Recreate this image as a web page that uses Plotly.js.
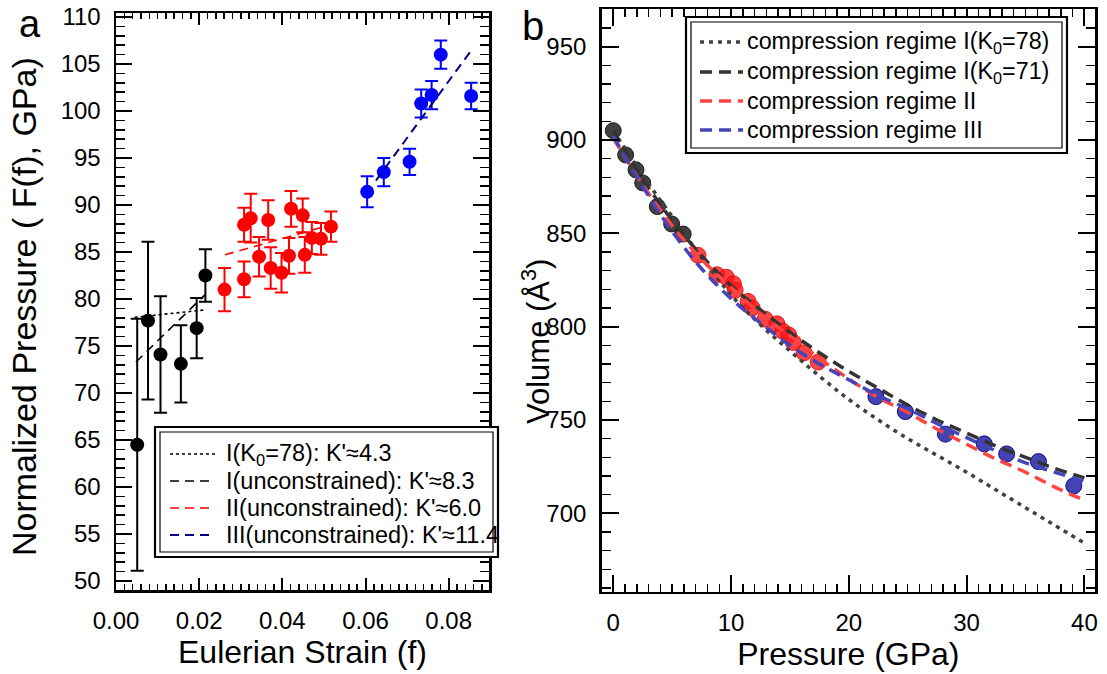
<!DOCTYPE html>
<html>
<head>
<meta charset="utf-8">
<script src="https://cdn.plot.ly/plotly-3.0.1.min.js"></script>
<style>html,body{margin:0;padding:0;background:#fff;}#chart{width:1107px;height:674px;}</style>
</head>
<body>
<div id="chart"></div>
<script>
// ---------- Panel a: normalized pressure vs Eulerian strain ----------
var strainI = [0.0051, 0.0077, 0.0107, 0.0156, 0.0194, 0.0215];
var presI   = [64.5, 77.7, 74.1, 73.1, 76.9, 82.5];
var errI    = [13.4, 8.4, 6.2, 4.1, 3.2, 2.8];

var strainII = [0.0261, 0.0308, 0.0308, 0.0324, 0.0344, 0.0366, 0.0372, 0.0398, 0.0416, 0.0421, 0.0449, 0.0454, 0.0471, 0.0493, 0.0517];
var presII   = [81.0, 82.1, 87.9, 88.6, 84.5, 88.4, 83.3, 82.8, 84.6, 89.6, 88.9, 84.7, 86.5, 86.4, 87.7];
var errII    = [2.3, 1.9, 1.8, 2.6, 2.1, 2.1, 2.2, 2.1, 1.9, 1.9, 1.8, 1.9, 1.7, 1.7, 1.6];

var strainIII = [0.0604, 0.0644, 0.0706, 0.0734, 0.0759, 0.0781, 0.0854];
var presIII   = [91.4, 93.5, 94.6, 100.8, 101.7, 106.0, 101.6];
var errIII    = [1.65, 1.5, 1.4, 1.5, 1.5, 1.5, 1.4];

// fitted lines (end points)
var fitK78_f = [0.0045, 0.0215];   var fitK78_F = [78.05, 78.85];
var fitI_f   = [0.0048, 0.0215];   var fitI_F   = [73.3, 80.5];
var fitII_f  = [0.0262, 0.0517];   var fitII_F  = [84.7, 87.9];
var fitIII_f = [0.0625, 0.0855];   var fitIII_F = [92.6, 106.5];

var legendA = ["I(K<sub>0</sub>=78): K'≈4.3", "I(unconstrained): K'≈8.3", "II(unconstrained): K'≈6.0", "III(unconstrained): K'≈11.4"];

// ---------- Panel b: volume vs pressure ----------
var pI = [0, 1.05, 1.93, 2.5, 3.74, 4.96, 5.94];
var vI = [905, 892, 884, 877, 864.3, 855, 849.6];
var pII = [7.2, 8.8, 9.6, 10.2, 10.35, 11.45, 11.8, 12.9, 13.9, 14.4, 14.9, 15.3, 16.2, 17.4];
var vII = [838.2, 827.8, 826.5, 823, 819.5, 813.5, 810, 804, 801.5, 797.5, 795.5, 791.5, 786, 781];
var pIII = [22.3, 24.8, 28.2, 31.5, 33.4, 36.1, 39.1];
var vIII = [762.5, 754.5, 742.4, 737.2, 731.8, 727.7, 714.7];

var curveP   = [0, 2.5, 5, 7.5, 10, 12.5, 15, 17.5, 20, 22.5, 25, 27.5, 30, 32.5, 35, 37.5, 40];
var curveK78 = [905, 881, 859, 837, 817, 801, 787, 773.5, 761, 750, 740, 731, 722, 712.5, 703, 693.5, 684];
var curveK71 = [905, 879, 857, 838, 822, 809, 797, 786, 776, 767, 758, 750, 743, 736, 730, 724, 719];
var curveII  = [901, 876, 854, 836, 821, 807, 795, 783, 772, 762, 754, 745, 737, 729, 722, 714, 707];
var curveIII = [902, 875, 851, 831, 815, 802, 790, 780, 771.5, 763, 756, 748, 740.5, 733.5, 727, 722, 717];

var legendB = ["compression regime I(K<sub>0</sub>=78)", "compression regime I(K<sub>0</sub>=71)", "compression regime II", "compression regime III"];

var W = 1107, H = 674;
function px(x){return x/W;}
function py(y){return 1 - y/H;}

var styleA = [
  {color:'#000000', dash:'3px,3px', width:1.6},
  {color:'#000000', dash:'9px,6px', width:1.6},
  {color:'#ff0000', dash:'9px,6px', width:1.6},
  {color:'#000080', dash:'9px,6px', width:2}
];
var styleB = [
  {color:'#404040', dash:'4px,5px', width:3.5},
  {color:'#333333', dash:'12px,7px', width:3.5},
  {color:'#ff4444', dash:'12px,7px', width:3.5},
  {color:'#4444bb', dash:'12px,7px', width:3.5}
];

function pts(x, y, e, color){
  return {x:x, y:y, type:'scatter', mode:'markers', xaxis:'x', yaxis:'y', showlegend:false,
    marker:{color:color, size:14},
    error_y:{type:'data', array:e, visible:true, color:color, thickness:2, width:6.5}};
}
function lineA(x, y, i){
  return {x:x, y:y, type:'scatter', mode:'lines', xaxis:'x', yaxis:'y', name:legendA[i], showlegend:false,
    line:styleA[i]};
}
function ptsB(x, y, color, lc){
  return {x:x, y:y, type:'scatter', mode:'markers', xaxis:'x2', yaxis:'y2', showlegend:false,
    marker:{color:color, size:16, line:{color:lc, width:1}}};
}
function curveB(y, i){
  var s = styleB[i];
  return {x:curveP, y:y, type:'scatter', mode:'lines', xaxis:'x2', yaxis:'y2', name:legendB[i], showlegend:false,
    line:{color:s.color, dash:s.dash, width:s.width, shape:'spline'}};
}

var traces = [
  pts(strainI, presI, errI, '#000000'),
  pts(strainII, presII, errII, '#ff0000'),
  pts(strainIII, presIII, errIII, '#0000ff'),
  lineA(fitK78_f, fitK78_F, 0),
  lineA(fitI_f, fitI_F, 1),
  lineA(fitII_f, fitII_F, 2),
  lineA(fitIII_f, fitIII_F, 3),
  ptsB(pI, vI, 'rgba(30,30,30,0.85)', 'rgba(20,20,20,0.9)'),
  ptsB(pII, vII, 'rgba(255,20,20,0.8)', 'rgba(230,0,0,0.8)'),
  ptsB(pIII, vIII, 'rgba(20,20,160,0.8)', 'rgba(0,0,120,0.9)'),
  curveB(curveK78, 0),
  curveB(curveK71, 1),
  curveB(curveII, 2),
  curveB(curveIII, 3)
];

var font = 'Arial, "Liberation Sans", sans-serif';
function axis(o){
  var base = {showline:true, linecolor:'#000', linewidth:2.5, mirror:'allticks', ticks:'inside',
    tickcolor:'#000', tickwidth:2, showgrid:false, zeroline:false, tickfont:{size:24, color:'#000'},
    ticklabelstandoff:8};
  for (var k in o) base[k] = o[k];
  return base;
}

// legend boxes (double frame) and entries
var shapes = [];
var annotations = [];
function legendBox(x0, x1, y0, y1){
  shapes.push({type:'rect', xref:'paper', yref:'paper', x0:px(x0), x1:px(x1), y0:py(y1), y1:py(y0),
    line:{color:'#000', width:2.2}, fillcolor:'#fff', layer:'above'});
  shapes.push({type:'rect', xref:'paper', yref:'paper', x0:px(x0+5), x1:px(x1-5), y0:py(y1-5), y1:py(y0+5),
    line:{color:'#000', width:1.2}, layer:'above'});
}
function legendRows(names, styles, rowsY, sx0, sx1, tx, fsize){
  for (var i = 0; i < names.length; i++){
    shapes.push({type:'line', xref:'paper', yref:'paper', x0:px(sx0), x1:px(sx1), y0:py(rowsY[i]), y1:py(rowsY[i]),
      line:{color:styles[i].color, dash:styles[i].dash, width:styles[i].width}, layer:'above'});
    annotations.push({text:names[i], xref:'paper', yref:'paper', x:px(tx), y:py(rowsY[i]), xanchor:'left', yanchor:'middle',
      showarrow:false, font:{size:fsize, color:'#000', family:font}});
  }
}
legendBox(155, 498, 427, 557);
legendRows(legendA, styleA, [454, 481, 508, 535], 170, 215, 224, 23.5);
legendBox(686, 1067, 17, 153);
legendRows(legendB, styleB, [42, 72, 101, 130], 700, 743, 745, 23.3);

annotations.push({text:'a', xref:'paper', yref:'paper', x:px(30), y:py(1), xanchor:'center', yanchor:'top', showarrow:false, font:{size:38, color:'#000', family:font}});
annotations.push({text:'b', xref:'paper', yref:'paper', x:px(533), y:py(2), xanchor:'center', yanchor:'top', showarrow:false, font:{size:40, color:'#000', family:font}});
annotations.push({text:'Normalized Pressure ( F(f), GPa)', xref:'paper', yref:'paper', x:px(24), y:py(307), xanchor:'center', yanchor:'middle', textangle:-90, showarrow:false, font:{size:34, color:'#000', family:font}});
annotations.push({text:'Volume (Å<sup>3</sup>)', xref:'paper', yref:'paper', x:px(536), y:py(342), xanchor:'center', yanchor:'middle', textangle:-90, showarrow:false, font:{size:31, color:'#000', family:font}});

var layout = {
  width:W, height:H, margin:{l:0, r:0, t:0, b:0},
  paper_bgcolor:'#fff', plot_bgcolor:'#fff',
  font:{family:font, color:'#000'},
  showlegend:false,
  xaxis: axis({domain:[px(116), px(489)], range:[0, 0.0897], anchor:'y', dtick:0.02, tick0:0, tickformat:'.2f', ticklen:12,
    minor:{dtick:0.002, ticklen:6, tickwidth:1.5, ticks:'inside', showgrid:false},
    title:{text:'Eulerian Strain (f)', font:{size:32}, standoff:0}}),
  yaxis: axis({domain:[py(590), py(13)], range:[49.04, 110.43], anchor:'x', dtick:5, tick0:50, ticklen:16,
    minor:{dtick:1, ticklen:9, tickwidth:1.5, ticks:'inside', showgrid:false}}),
  xaxis2: axis({domain:[px(601.7), px(1095)], range:[-0.98, 40.9], anchor:'y2', dtick:10, tick0:0, ticklen:17,
    minor:{dtick:1, ticklen:8, tickwidth:1.5, ticks:'inside', showgrid:false}, 
    title:{text:'Pressure (GPa)', font:{size:32}, standoff:5}}),
  yaxis2: axis({domain:[py(591.7), py(9.3)], range:[658, 970], anchor:'x2', dtick:50, tick0:700, ticklen:17,
    minor:{dtick:10, ticklen:9, tickwidth:1.5, ticks:'inside', showgrid:false}}),
  shapes:shapes,
  annotations:annotations
};

Plotly.newPlot('chart', traces, layout, {displayModeBar:false, staticPlot:true});
</script>
</body>
</html>
